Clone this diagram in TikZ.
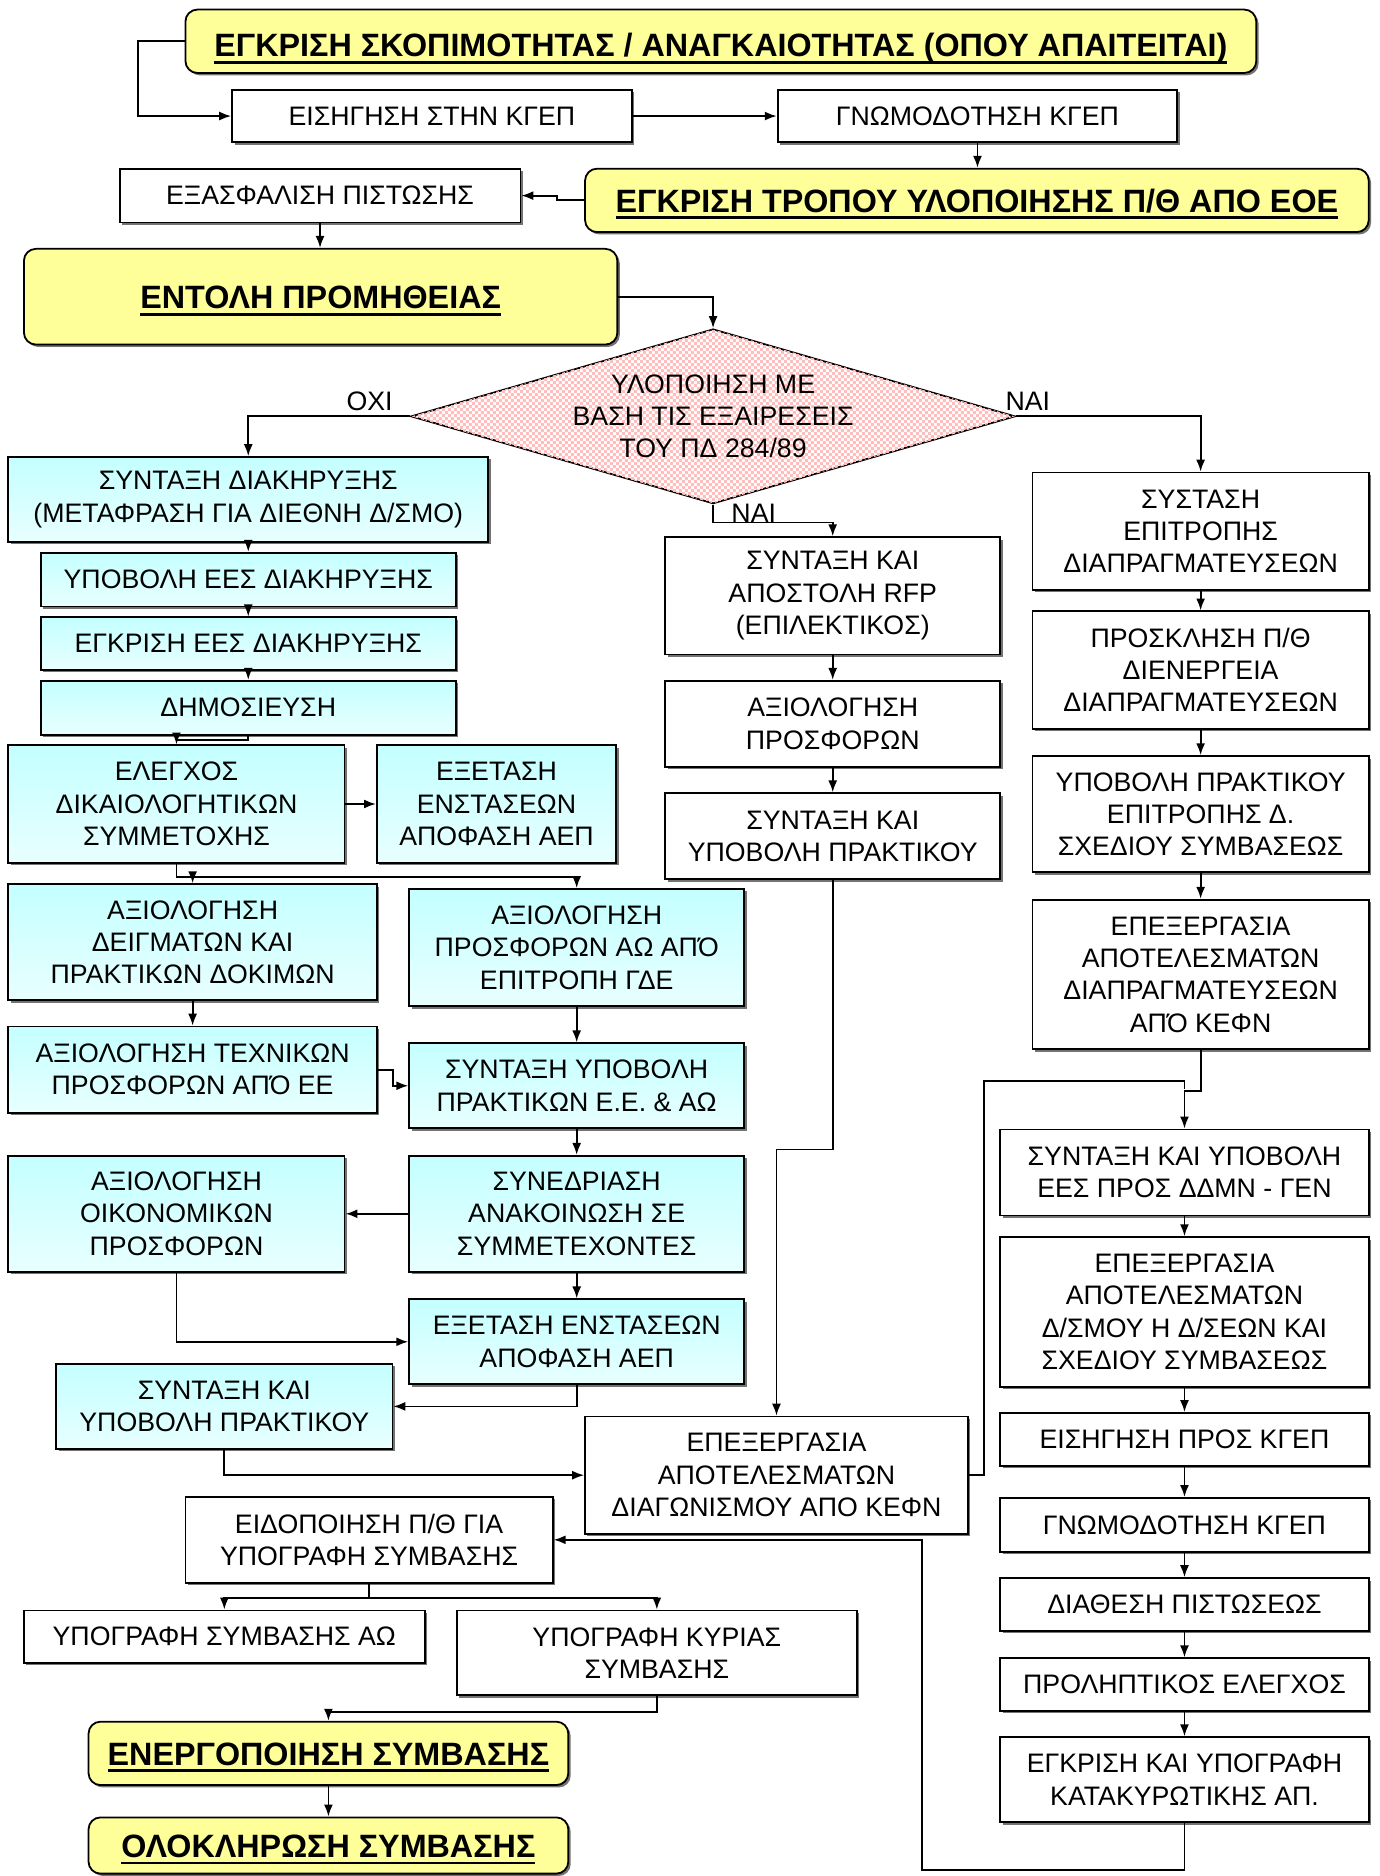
\documentclass[tikz,border=0pt]{standalone}
\usepackage{fontspec}
\setmainfont{Liberation Sans}
\usetikzlibrary{arrows.meta,shapes.geometric,shadows,patterns,calc}

% thick underline for the highlighted titles (does not change the text box)
\newcommand\thickul[1]{\setbox0\hbox{#1}\rlap{\smash{\vrule width\wd0 height -2.2pt depth 3.6pt}}\box0}

% fine checkerboard used on the decision diamond
\pgfdeclarepatternformonly{finecheck}{\pgfpointorigin}{\pgfqpoint{3pt}{3pt}}{\pgfqpoint{3pt}{3pt}}{%
  \pgfpathrectangle{\pgfpointorigin}{\pgfqpoint{1.5pt}{1.5pt}}%
  \pgfpathrectangle{\pgfqpoint{1.5pt}{1.5pt}}{\pgfqpoint{1.5pt}{1.5pt}}%
  \pgfusepath{fill}}

\definecolor{titleyellow}{RGB}{255,255,153}
\definecolor{boxcyan}{RGB}{196,255,255}
\definecolor{boxcyanlight}{RGB}{232,255,255}
\definecolor{decpink}{RGB}{255,190,190}

\tikzset{
  base/.style={draw=black, line width=0.9pt, align=center, inner sep=0pt,
    font=\fontsize{13.4}{16.2}\selectfont,
    drop shadow={shadow xshift=1.2pt, shadow yshift=-1.2pt, fill=black!55, opacity=1}},
  plainbox/.style={base, fill=white},
  cyanbox/.style={base, top color=boxcyan, bottom color=boxcyanlight},
  titlebox/.style={base, fill=titleyellow, rounded corners=6pt,
    text height=11.7pt, text depth=0pt,
    font=\fontsize{16.2}{18}\selectfont\bfseries},
  decision/.style={diamond, aspect=3.46, draw=black, line width=0.9pt, inner sep=0pt, align=center,
    font=\fontsize{13.4}{16.2}\selectfont, fill=white,
    postaction={pattern=finecheck, pattern color=decpink}},
  arr/.style={draw=black, line width=0.9pt, -{Latex[length=6pt,width=4.5pt]}},
  link/.style={draw=black, line width=0.9pt},
  tag/.style={font=\fontsize{13.4}{15}\selectfont, inner sep=1.5pt},
}

% box from its corners: name, x1, y1, x2, y2, style, text
\newcommand\pbox[7]{\node[#6, minimum width={(#4-#2)*0.6pt}, minimum height={(#5-#3)*0.6pt}]
  (#1) at ({(#2+#4)/2},{(#3+#5)/2}) {#7};}

\begin{document}
\begin{tikzpicture}[x=0.6pt,y=-0.6pt]
\useasboundingbox[fill=white] (0,0) rectangle (1153,1568);

% ---- approval chain at the top ----
\pbox{skop}{155}{8}{1050}{61}{titlebox, text height=15.6pt}{\thickul{ΕΓΚΡΙΣΗ ΣΚΟΠΙΜΟΤΗΤΑΣ / ΑΝΑΓΚΑΙΟΤΗΤΑΣ (ΟΠΟΥ ΑΠΑΙΤΕΙΤΑΙ)}}
\pbox{eisk}{194}{75}{528}{119}{plainbox}{ΕΙΣΗΓΗΣΗ ΣΤΗΝ ΚΓΕΠ}
\pbox{gnomk}{650}{75}{984}{119}{plainbox}{ΓΝΩΜΟΔΟΤΗΣΗ ΚΓΕΠ}
\pbox{exasf}{100}{141}{435}{186}{plainbox}{ΕΞΑΣΦΑΛΙΣΗ ΠΙΣΤΩΣΗΣ}
\pbox{tropos}{489}{141}{1144}{194}{titlebox}{\thickul{ΕΓΚΡΙΣΗ ΤΡΟΠΟΥ ΥΛΟΠΟΙΗΣΗΣ Π/Θ ΑΠΟ ΕΟΕ}}
\pbox{entoli}{20}{208}{516}{288}{titlebox}{\thickul{ΕΝΤΟΛΗ ΠΡΟΜΗΘΕΙΑΣ}}

\node[decision, minimum width={505*0.6pt}, minimum height={146*0.6pt}] (dec) at (596,348)
  {ΥΛΟΠΟΙΗΣΗ ΜΕ\\ΒΑΣΗ ΤΙΣ ΕΞΑΙΡΕΣΕΙΣ\\ΤΟΥ ΠΔ 284/89};

% ---- open tender (left branch) ----
\pbox{diak}{7}{382}{408}{453}{cyanbox}{ΣΥΝΤΑΞΗ ΔΙΑΚΗΡΥΞΗΣ\\(ΜΕΤΑΦΡΑΣΗ ΓΙΑ ΔΙΕΘΝΗ Δ/ΣΜΟ)}
\pbox{ypees}{34}{462}{381}{507}{cyanbox}{ΥΠΟΒΟΛΗ ΕΕΣ ΔΙΑΚΗΡΥΞΗΣ}
\pbox{egees}{34}{516}{381}{560}{cyanbox}{ΕΓΚΡΙΣΗ ΕΕΣ ΔΙΑΚΗΡΥΞΗΣ}
\pbox{dimos}{34}{569}{381}{614}{cyanbox}{ΔΗΜΟΣΙΕΥΣΗ}
\pbox{elegx}{7}{623}{288}{721}{cyanbox}{ΕΛΕΓΧΟΣ\\ΔΙΚΑΙΟΛΟΓΗΤΙΚΩΝ\\ΣΥΜΜΕΤΟΧΗΣ}
\pbox{enstA}{315}{623}{515}{721}{cyanbox}{ΕΞΕΤΑΣΗ\\ΕΝΣΤΑΣΕΩΝ\\ΑΠΟΦΑΣΗ ΑΕΠ}
\pbox{deigm}{7}{739}{315}{836}{cyanbox}{ΑΞΙΟΛΟΓΗΣΗ\\ΔΕΙΓΜΑΤΩΝ ΚΑΙ\\ΠΡΑΚΤΙΚΩΝ ΔΟΚΙΜΩΝ}
\pbox{prosAO}{342}{743}{622}{841}{cyanbox}{ΑΞΙΟΛΟΓΗΣΗ\\ΠΡΟΣΦΟΡΩΝ ΑΩ ΑΠΌ\\ΕΠΙΤΡΟΠΗ ΓΔΕ}
\pbox{techn}{7}{858}{315}{930}{cyanbox}{ΑΞΙΟΛΟΓΗΣΗ ΤΕΧΝΙΚΩΝ\\ΠΡΟΣΦΟΡΩΝ ΑΠΌ ΕΕ}
\pbox{praktEE}{342}{872}{622}{943}{cyanbox}{ΣΥΝΤΑΞΗ ΥΠΟΒΟΛΗ\\ΠΡΑΚΤΙΚΩΝ Ε.Ε. \& ΑΩ}
\pbox{oikon}{7}{966}{288}{1063}{cyanbox}{ΑΞΙΟΛΟΓΗΣΗ\\ΟΙΚΟΝΟΜΙΚΩΝ\\ΠΡΟΣΦΟΡΩΝ}
\pbox{syned}{342}{966}{622}{1063}{cyanbox}{ΣΥΝΕΔΡΙΑΣΗ\\ΑΝΑΚΟΙΝΩΣΗ ΣΕ\\ΣΥΜΜΕΤΕΧΟΝΤΕΣ}
\pbox{enstB}{342}{1086}{622}{1157}{cyanbox}{ΕΞΕΤΑΣΗ ΕΝΣΤΑΣΕΩΝ\\ΑΠΟΦΑΣΗ ΑΕΠ}
\pbox{praktL}{47}{1140}{328}{1211}{cyanbox}{ΣΥΝΤΑΞΗ ΚΑΙ\\ΥΠΟΒΟΛΗ ΠΡΑΚΤΙΚΟΥ}

% ---- common tail ----
\pbox{kefn}{489}{1184}{809}{1282}{plainbox}{ΕΠΕΞΕΡΓΑΣΙΑ\\ΑΠΟΤΕΛΕΣΜΑΤΩΝ\\ΔΙΑΓΩΝΙΣΜΟΥ ΑΠΟ ΚΕΦΝ}
\pbox{eidop}{155}{1251}{462}{1323}{plainbox}{ΕΙΔΟΠΟΙΗΣΗ Π/Θ ΓΙΑ\\ΥΠΟΓΡΑΦΗ ΣΥΜΒΑΣΗΣ}
\pbox{ypAO}{20}{1346}{355}{1390}{plainbox}{ΥΠΟΓΡΑΦΗ ΣΥΜΒΑΣΗΣ ΑΩ}
\pbox{ypKyr}{382}{1346}{716}{1417}{plainbox}{ΥΠΟΓΡΑΦΗ ΚΥΡΙΑΣ\\ΣΥΜΒΑΣΗΣ}
\pbox{energ}{74}{1439}{475}{1492}{titlebox}{\thickul{ΕΝΕΡΓΟΠΟΙΗΣΗ ΣΥΜΒΑΣΗΣ}}
\pbox{olokl}{74}{1519}{475}{1566}{titlebox}{\thickul{ΟΛΟΚΛΗΡΩΣΗ ΣΥΜΒΑΣΗΣ}}

% ---- selective procedure (middle branch) ----
\pbox{rfp}{556}{449}{836}{547}{plainbox}{ΣΥΝΤΑΞΗ ΚΑΙ\\ΑΠΟΣΤΟΛΗ RFP\\(ΕΠΙΛΕΚΤΙΚΟΣ)}
\pbox{axprM}{556}{569}{836}{641}{plainbox}{ΑΞΙΟΛΟΓΗΣΗ\\ΠΡΟΣΦΟΡΩΝ}
\pbox{praktM}{556}{663}{836}{735}{plainbox}{ΣΥΝΤΑΞΗ ΚΑΙ\\ΥΠΟΒΟΛΗ ΠΡΑΚΤΙΚΟΥ}

% ---- negotiation (right branch) ----
\pbox{systasi}{863}{395}{1144}{493}{plainbox}{ΣΥΣΤΑΣΗ\\ΕΠΙΤΡΟΠΗΣ\\ΔΙΑΠΡΑΓΜΑΤΕΥΣΕΩΝ}
\pbox{prosk}{863}{511}{1144}{609}{plainbox}{ΠΡΟΣΚΛΗΣΗ Π/Θ\\ΔΙΕΝΕΡΓΕΙΑ\\ΔΙΑΠΡΑΓΜΑΤΕΥΣΕΩΝ}
\pbox{ypprakt}{863}{632}{1144}{729}{plainbox}{ΥΠΟΒΟΛΗ ΠΡΑΚΤΙΚΟΥ\\ΕΠΙΤΡΟΠΗΣ Δ.\\ΣΧΕΔΙΟΥ ΣΥΜΒΑΣΕΩΣ}
\pbox{epexR}{863}{752}{1144}{877}{plainbox}{ΕΠΕΞΕΡΓΑΣΙΑ\\ΑΠΟΤΕΛΕΣΜΑΤΩΝ\\ΔΙΑΠΡΑΓΜΑΤΕΥΣΕΩΝ\\ΑΠΌ ΚΕΦΝ}
\pbox{eesddmn}{836}{944}{1144}{1016}{plainbox}{ΣΥΝΤΑΞΗ ΚΑΙ ΥΠΟΒΟΛΗ\\ΕΕΣ ΠΡΟΣ ΔΔΜΝ - ΓΕΝ}
\pbox{epexD}{836}{1034}{1144}{1159}{plainbox}{ΕΠΕΞΕΡΓΑΣΙΑ\\ΑΠΟΤΕΛΕΣΜΑΤΩΝ\\Δ/ΣΜΟΥ Η Δ/ΣΕΩΝ ΚΑΙ\\ΣΧΕΔΙΟΥ ΣΥΜΒΑΣΕΩΣ}
\pbox{eisR}{836}{1181}{1144}{1225}{plainbox}{ΕΙΣΗΓΗΣΗ ΠΡΟΣ ΚΓΕΠ}
\pbox{gnomR}{836}{1252}{1144}{1297}{plainbox}{ΓΝΩΜΟΔΟΤΗΣΗ ΚΓΕΠ}
\pbox{diath}{836}{1319}{1144}{1363}{plainbox}{ΔΙΑΘΕΣΗ ΠΙΣΤΩΣΕΩΣ}
\pbox{prolipt}{836}{1386}{1144}{1430}{plainbox}{ΠΡΟΛΗΠΤΙΚΟΣ ΕΛΕΓΧΟΣ}
\pbox{katak}{836}{1452}{1144}{1523}{plainbox}{ΕΓΚΡΙΣΗ ΚΑΙ ΥΠΟΓΡΑΦΗ\\ΚΑΤΑΚΥΡΩΤΙΚΗΣ ΑΠ.}

% ---- connectors: top ----
\draw[arr] (skop.west) -- ++(-39,0) |- (eisk.west);
\draw[arr] (eisk.east) -- (gnomk.west);
\draw[arr] (gnomk.south) -- (gnomk.south |- tropos.north);
\draw[arr] (tropos.west) -- ++(-23,0) |- (exasf.east);
\draw[arr] (exasf.south) -- (exasf.south |- entoli.north);
\draw[arr] (entoli.east) -| (dec.north);

% ---- decision outcomes ----
\draw[arr] (dec.west) -| node[tag, pos=0.125, above=1pt] (lochi) {ΟΧΙ} (diak.north);
\draw[arr] (dec.east) -| node[tag, pos=0.032, above=1pt] (lnaiR) {ΝΑΙ} (systasi.north);
\draw[arr] (dec.south) -- ++(0,15) -| (rfp.north);
\node[tag] (lnaiM) at ($(dec.south)+(34,7)$) {ΝΑΙ};

% ---- left branch ----
\draw[arr] (diak.south) -- (ypees.north);
\draw[arr] (ypees.south) -- (egees.north);
\draw[arr] (egees.south) -- (dimos.north);
\draw[arr] (dimos.south) -- ++(0,4) -| (elegx.north);
\draw[arr] (elegx.east) -- (enstA.west);
\draw[link] (elegx.south) -- ++(0,11) coordinate (split1);
\draw[arr] (split1) -| (prosAO.north);
\draw[arr] (split1 -| deigm.north) -- (deigm.north);
\draw[arr] (deigm.south) -- (techn.north);
\draw[arr] (prosAO.south) -- (praktEE.north);
\draw[arr] (techn.east) -- ++(13,0) |- (praktEE.west);
\draw[arr] (praktEE.south) -- (syned.north);
\draw[arr] (syned.west) -- (oikon.east);
\draw[arr] (syned.south) -- (enstB.north);
\draw[arr] (oikon.south) |- (enstB.west);
\draw[arr] (enstB.south) |- (praktL.east);
\draw[arr] (praktL.south) |- (kefn.west);

% ---- middle branch ----
\draw[arr] (rfp.south) -- (axprM.north);
\draw[arr] (axprM.south) -- (praktM.north);
\draw[arr] (praktM.south) -- ++(0,225) -| (kefn.north);

% ---- right branch ----
\draw[arr] (systasi.south) -- (prosk.north);
\draw[arr] (prosk.south) -- (ypprakt.north);
\draw[arr] (ypprakt.south) -- (epexR.north);
\draw[arr] (epexR.south) -- ++(0,34) -| (eesddmn.north);
\draw[link] (kefn.east) -- ++(13,0) |- ($(eesddmn.north)+(0,-40)$) -- ++(0,7);
\draw[arr] (eesddmn.south) -- (epexD.north);
\draw[arr] (epexD.south) -- (eisR.north);
\draw[arr] (eisR.south) -- (gnomR.north);
\draw[arr] (gnomR.south) -- (diath.north);
\draw[arr] (diath.south) -- (prolipt.north);
\draw[arr] (prolipt.south) -- (katak.north);
\draw[arr] (katak.south) -- ++(0,39) -| ($(eidop.east)+(308,0)$) -- (eidop.east);

% ---- contract signing ----
\draw[link] (eidop.south) -- ++(0,12) coordinate (split2);
\draw[arr] (split2) -| (ypAO.north);
\draw[arr] (split2) -| (ypKyr.north);
\draw[arr] (ypKyr.south) -- ++(0,13) -| (energ.north);
\draw[arr] (energ.south) -- (olokl.north);
\end{tikzpicture}
\end{document}
